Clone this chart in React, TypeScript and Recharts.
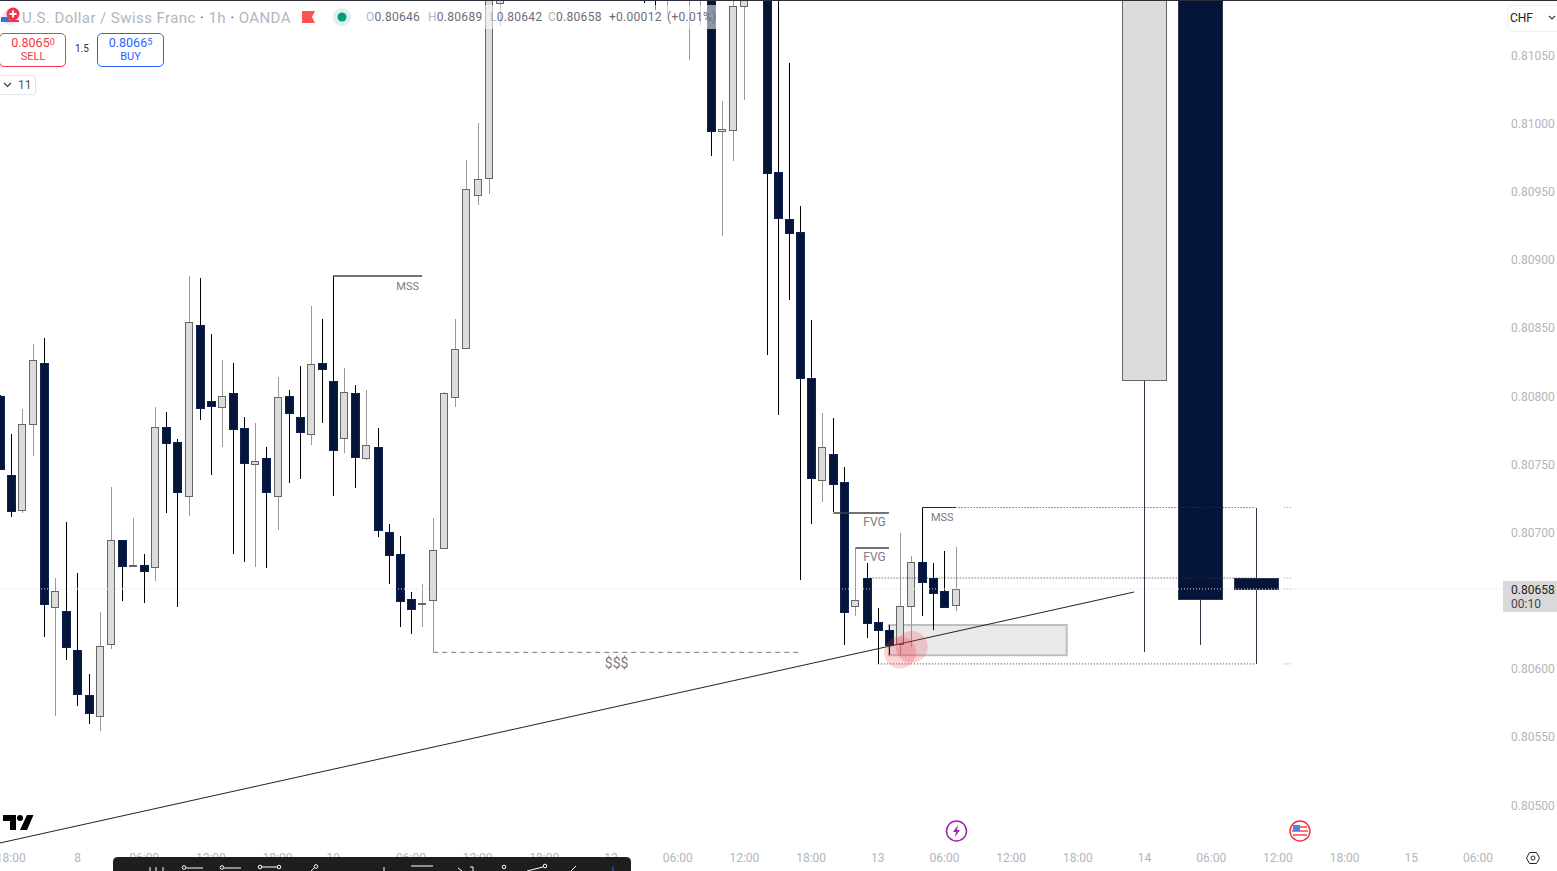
import React from "react";
import { ComposedChart, Bar, XAxis, YAxis, ReferenceLine, ReferenceArea, ReferenceDot } from "recharts";

const W = 1557, H = 871;
const FONT = "Roboto, 'Liberation Sans', sans-serif";
const GREY = "#b2b5be";

// hour index on the chart's time axis, open, high, low, close
const hourIndex = [-7,-6,-5,-4,-3,-2,-1,0,1,2,3,4,5,6,7,8,9,10,11,12,13,14,15,16,17,18,19,20,21,22,23,24,25,26,27,28,29,30,31,32,33,34,35,36,37,38,51,52,53,55,56,57,58,59,60,62,63,64,65,66,67,68,69,70,71,72,73,74,75,76,77,78,79];
const opens = [0.807995,0.807415,0.807156,0.807787,0.808237,0.806450,0.806418,0.806132,0.805802,0.805650,0.806174,0.806936,0.806748,0.806755,0.806738,0.807765,0.807655,0.807259,0.808513,0.807958,0.807912,0.808015,0.807758,0.807494,0.807538,0.807259,0.807995,0.807839,0.807714,0.808235,0.808103,0.807685,0.808015,0.807538,0.807621,0.806995,0.806834,0.806504,0.806473,0.806496,0.806878,0.807987,0.808347,0.809471,0.809591,0.810875,0.81135,0.8112,0.81095,0.8110,0.81095,0.81105,0.809936,0.809943,0.810853,0.8111,0.809637,0.809293,0.809197,0.808127,0.807377,0.807569,0.807362,0.806452,0.806658,0.806337,0.806276,0.806174,0.806452,0.806775,0.806658,0.806562,0.80646];
const highs = [0.8080,0.807716,0.807899,0.808376,0.808420,0.806660,0.807071,0.806697,0.805956,0.806411,0.807327,0.806939,0.8071,0.806836,0.807914,0.807877,0.807679,0.808875,0.80886,0.808449,0.808259,0.808237,0.807841,0.807797,0.807621,0.808134,0.808039,0.808215,0.808655,0.808559,0.808875,0.8082,0.808073,0.808039,0.80776,0.807056,0.806968,0.806557,0.806616,0.8071,0.808024,0.808559,0.809725,0.809997,0.81105,0.81125,0.8114,0.8113,0.81125,0.8113,0.8112,0.8111,0.810158,0.81095,0.81105,0.81115,0.81095,0.810437,0.809388,0.808552,0.80787,0.807833,0.807474,0.806882,0.806768,0.80644,0.806315,0.80699,0.806821,0.807177,0.806768,0.806858,0.80689];
const lows = [0.80745,0.80711,0.807139,0.807557,0.80623,0.805648,0.806059,0.805721,0.805589,0.80554,0.806142,0.806494,0.806743,0.806479,0.80664,0.807139,0.80645,0.807117,0.807819,0.807418,0.807623,0.806838,0.80678,0.806741,0.806733,0.807012,0.807359,0.807388,0.807635,0.807799,0.807264,0.807579,0.807322,0.807525,0.806963,0.806618,0.806303,0.806252,0.806303,0.806115,0.806873,0.807914,0.80834,0.809398,0.809478,0.81071,0.810877,0.810825,0.810789,0.810459,0.810715,0.809757,0.80917,0.80972,0.810168,0.808295,0.807855,0.808699,0.806645,0.807058,0.80722,0.807142,0.806171,0.806384,0.806222,0.806027,0.806093,0.806095,0.806154,0.806384,0.806279,0.806447,0.80642];
const closes = [0.807456,0.807154,0.807787,0.808257,0.806472,0.806562,0.806156,0.805812,0.805672,0.806159,0.806936,0.80675,0.806753,0.806714,0.807765,0.807652,0.807293,0.808535,0.807909,0.807921,0.807993,0.807755,0.807506,0.807516,0.807293,0.807985,0.807872,0.807733,0.808227,0.808195,0.807601,0.808022,0.80755,0.807633,0.807014,0.806831,0.806494,0.806435,0.806476,0.806863,0.808015,0.808339,0.80951,0.809584,0.81098,0.8111,0.81105,0.811,0.81115,0.8112,0.8111,0.80994,0.80995,0.810853,0.811,0.809632,0.809302,0.809192,0.808127,0.807396,0.807619,0.807352,0.806413,0.806496,0.806332,0.806281,0.806171,0.806452,0.806775,0.806633,0.806552,0.80645,0.80658];

// the three large projected candles drawn to the right of the last bar
const projectedIndex = [96,101,106];
const projectedOpen = [0.808112,0.8112,0.80666];
const projectedHigh = [0.8114,0.8112,0.807177];
const projectedLow = [0.806117,0.806169,0.806029];
const projectedClose = [0.8114,0.806506,0.806579];

const priceTicks = [0.805,0.8055,0.806,0.807,0.8075,0.808,0.8085,0.809,0.8095,0.81,0.8105];
const timeTickIndex = [-6,0,6,12,18,23,30,36,42,48,54,60,66,72,78,84,90,96,102,108,114,120,126];
const timeTickLabels = ["18:00","8","06:00","12:00","18:00","10","06:00","12:00","18:00","12","06:00","12:00","18:00","13","06:00","12:00","18:00","14","06:00","12:00","18:00","15","06:00"];

const lastPrice = 0.80658;

const solidSegments = [
  { x1: 23, x2: 31, y: 0.808875 },
  { x1: 68, x2: 73, y: 0.807137 },
  { x1: 70, x2: 73, y: 0.80688 },
];
const thinSegments = [{ x1: 76, x2: 79, y: 0.807177 }];
const dottedSegments = [
  { x1: 79, x2: 106, y: 0.807177 },
  { x1: 71, x2: 106, y: 0.80666 },
  { x1: 72, x2: 106, y: 0.80603 },
];
const dashedSegments = [{ x1: 32, x2: 65, y: 0.806115 }];
const endMarks = [0.807177, 0.80666, 0.80658, 0.80603];
const trendLine = { x1: -6.973, y1: 0.804717, x2: 95.05, y2: 0.806557 };
const zone = { x1: 73, x2: 89, y1: 0.806093, y2: 0.806315 };
const circles = [{ x: 74, y: 0.806114 }, { x: 75.05, y: 0.806154 }];
const notes = [
  { x: 29.7, y: 0.808801, text: "MSS", size: 11 },
  { x: 71.7, y: 0.807071, text: "FVG", size: 12 },
  { x: 71.7, y: 0.806814, text: "FVG", size: 12 },
  { x: 77.8, y: 0.807107, text: "MSS", size: 11 },
  { x: 48.5, y: 0.806037, text: "$$$", size: 14 },
];

const rows = [
  ...hourIndex.map((t, i) => ({ t, o: opens[i], h: highs[i], l: lows[i], c: closes[i], projected: false, range: [lows[i], highs[i]] })),
  ...projectedIndex.map((t, i) => ({ t, o: projectedOpen[i], h: projectedHigh[i], l: projectedLow[i], c: projectedClose[i], projected: true, range: [projectedLow[i], projectedHigh[i]] })),
];

function Candle(props: any) {
  const { x, y, width, height, payload } = props;
  if (!payload || payload.h == null) return null;
  const { o, h, l, c, projected } = payload;
  const top = Math.min(y, y + height);
  const k = Math.abs(height) / (h - l);
  const cx = Math.round(x + width / 2);
  const yHigh = top;
  const yLow = top + Math.abs(height);
  const yBodyTop = Math.round(top + (h - Math.max(o, c)) * k);
  const yBodyBot = Math.max(Math.round(top + (h - Math.min(o, c)) * k), yBodyTop + 1);
  const up = c >= o;
  const half = projected ? 22 : up ? 3.5 : 4;
  const wick = projected ? "#2f3648" : up ? "#9a9a9a" : "#000";
  const fill = up ? "#dcdcdc" : "#05153a";
  const stroke = up ? "#666" : projected ? "#2f3648" : "#0f2154";
  return (
    <g shapeRendering="crispEdges">
      <line x1={cx + 0.5} x2={cx + 0.5} y1={yHigh} y2={yLow} stroke={wick} strokeWidth={1} />
      <rect x={cx - half + (up && !projected ? 0 : 0.5)} y={yBodyTop + 0.5} width={half * 2} height={yBodyBot - yBodyTop} fill={fill} stroke={stroke} strokeWidth={1} />
    </g>
  );
}

function Abs({ l, t, w, h, style, children }: any) {
  return <div style={{ position: "absolute", left: l, top: t, width: w, height: h, ...style }}>{children}</div>;
}

function Txt({ l, t, size = 12, color = GREY, children, style }: any) {
  return <div style={{ position: "absolute", left: l, top: t, fontSize: size, color, lineHeight: "14px", whiteSpace: "nowrap", fontFamily: FONT, ...style }}>{children}</div>;
}

const DIGIT = "#6a6d78";

function Header() {
  const spaced = { letterSpacing: 0.28 };
  return (
    <>
      <Abs l={0} t={0} w={W} h={1} style={{ background: "#2a2e39" }} />
      <Abs l={0} t={5} w={716} h={24} style={{ background: "rgba(255,255,255,0.55)" }} />
      <svg style={{ position: "absolute", left: 0, top: 6 }} width={22} height={20}>
        <circle cx={10} cy={11} r={8} fill="#e8eaf0" />
        <rect x={1} y={14} width={18} height={2} fill="#f23645" />
        <rect x={1} y={11} width={8} height={4} fill="#3a6fd8" />
        <circle cx={13} cy={8} r={6.5} fill="#f23645" />
        <rect x={9.5} y={7} width={7} height={2} fill="#fff" />
        <rect x={12} y={4.5} width={2} height={7} fill="#fff" />
      </svg>
      <Txt l={22} t={11} size={15} style={{ letterSpacing: 0.43 }}>U.S. Dollar / Swiss Franc <span style={{ color: "#444" }}>·</span> 1h <span style={{ color: "#444" }}>·</span> OANDA</Txt>
      <svg style={{ position: "absolute", left: 300, top: 9 }} width={18} height={16}>
        <polygon points="2,2 15,2 12,8 15,14 2,14" fill="#ff5252" />
      </svg>
      <svg style={{ position: "absolute", left: 332, top: 7 }} width={20} height={20}>
        <circle cx={10} cy={10} r={9} fill="#089981" opacity={0.14} />
        <circle cx={10} cy={10} r={4.5} fill="#089981" />
      </svg>
      <Txt l={366} t={10} style={spaced}>O<span style={{ color: DIGIT }}>0.80646</span></Txt>
      <Txt l={428} t={10} style={spaced}>H<span style={{ color: DIGIT }}>0.80689</span></Txt>
      <Txt l={490} t={10} style={spaced}>L<span style={{ color: DIGIT }}>0.80642</span></Txt>
      <Txt l={548} t={10} style={spaced}>C<span style={{ color: DIGIT }}>0.80658</span></Txt>
      <Txt l={609} t={10} color={DIGIT} style={spaced}>+0.00012</Txt>
      <Txt l={667} t={10} color={DIGIT} style={spaced}>(+0.01%)</Txt>
      <Abs l={-1} t={33} w={65} h={32} style={{ border: "1px solid #f23645", borderRadius: 5, background: "#fff" }} />
      <Txt l={0} t={36} size={12.5} color="#f23645" style={{ width: 66, textAlign: "center" }}>0.8065<span style={{ fontSize: 9, position: "relative", top: -2 }}>0</span></Txt>
      <Txt l={0} t={50} size={11} color="#f23645" style={{ width: 66, textAlign: "center" }}>SELL</Txt>
      <Txt l={75} t={42} size={10} color="#333">1.5</Txt>
      <Abs l={97} t={33} w={65} h={32} style={{ border: "1px solid #2962ff", borderRadius: 5, background: "#fff" }} />
      <Txt l={97} t={36} size={12.5} color="#2962ff" style={{ width: 67, textAlign: "center" }}>0.8066<span style={{ fontSize: 9, position: "relative", top: -2 }}>5</span></Txt>
      <Txt l={97} t={50} size={11} color="#2962ff" style={{ width: 67, textAlign: "center" }}>BUY</Txt>
      <Abs l={-1} t={75} w={35} h={18} style={{ border: "1px solid #e0e3eb", borderRadius: 3 }} />
      <svg style={{ position: "absolute", left: 3, top: 82 }} width={9} height={6}>
        <path d="M1 1 L4.5 4.5 L8 1" stroke="#333" fill="none" strokeWidth={1.1} />
      </svg>
      <Txt l={18} t={78} size={12} color="#555">11</Txt>
      <Abs l={1507} t={5} w={60} h={25} style={{ border: "1px solid #eeeff3", borderRadius: 5 }} />
      <Txt l={1510} t={11} size={12} color="#222">CHF</Txt>
      <svg style={{ position: "absolute", left: 1548, top: 15 }} width={9} height={6}>
        <path d="M1 1 L4 4 L7 1" stroke="#333" fill="none" strokeWidth={1.1} />
      </svg>
      <Abs l={1503} t={581} w={54} h={31} style={{ background: "#d9d9d9" }} />
      <Txt l={1511} t={583} size={12} color="#222">0.80658</Txt>
      <Txt l={1511} t={597} size={12} color="#444">00:10</Txt>
    </>
  );
}

function Footer() {
  return (
    <>
      <svg style={{ position: "absolute", left: 0, top: 812 }} width={36} height={20}>
        <path d="M3 3 H16 V18 H10 V9 H3 Z" fill="#000" />
        <circle cx={20} cy={6} r={3} fill="#000" />
        <path d="M27 3 H33.5 L27 18 H20 Z" fill="#000" />
      </svg>
      <svg style={{ position: "absolute", left: 945, top: 820 }} width={23} height={23}>
        <circle cx={11.5} cy={11} r={10} fill="#fff" stroke="#9c27b0" strokeWidth={1.5} />
        <path d="M13 5 L8 12 H11 L10 17 L15 10 H12 Z" fill="#9c27b0" />
      </svg>
      <svg style={{ position: "absolute", left: 1288, top: 819 }} width={24} height={24}>
        <circle cx={12} cy={12} r={10} fill="#fff" stroke="#f23645" strokeWidth={1.5} />
        <rect x={5} y={7} width={14} height={2} fill="#f23645" opacity={0.7} />
        <rect x={4} y={11} width={16} height={2} fill="#f23645" opacity={0.7} />
        <rect x={5} y={15} width={14} height={2} fill="#f23645" opacity={0.7} />
        <rect x={5} y={6} width={7} height={6} fill="#4a86e8" />
      </svg>
      <svg style={{ position: "absolute", left: 1525, top: 850 }} width={16} height={16}>
        <path d="M1.5 8 L4.5 2.5 H11.5 L14.5 8 L11.5 13.5 H4.5 Z" fill="#fff" stroke="#222" strokeWidth={1} />
        <circle cx={8} cy={8} r={2} fill="none" stroke="#222" strokeWidth={1} />
      </svg>
      <svg style={{ position: "absolute", left: 113, top: 857 }} width={518} height={14}>
        <path d="M0 14 V5 Q0 0 5 0 H513 Q518 0 518 5 V14 Z" fill="#1e1e1e" />
        <g stroke="#fff" strokeWidth={1} fill="none">
          <path d="M37 14 V10 M43 14 V10 M50 14 V10" />
          <circle cx={71} cy={10.5} r={1.8} />
          <path d="M73 11 H90" />
          <circle cx={109} cy={10.5} r={1.8} />
          <path d="M111 11 H128" />
          <circle cx={147} cy={10} r={1.8} />
          <circle cx={166} cy={10} r={1.8} />
          <path d="M149 10 H164" />
          <circle cx={203} cy={9.5} r={1.8} />
          <path d="M201 11 L198 14" />
          <path d="M271 14 V10" />
          <path d="M298 9 H320" />
          <path d="M345 11 L349 14 M357 10 H360 V14" />
          <circle cx={391} cy={10} r={1.8} />
          <circle cx={432} cy={9} r={1.8} />
          <path d="M414 14 L430 10" />
          <path d="M458 14 L463 9" />
          <path d="M500 10 V14" stroke="#2962ff" />
        </g>
      </svg>
    </>
  );
}

export default function App() {
  return (
    <div style={{ position: "absolute", left: 0, top: 0, width: W, height: H, overflow: "hidden", background: "#fff", fontFamily: FONT }}>
      <ComposedChart width={W} height={H} data={rows} margin={{ top: 0, right: 0, left: 0, bottom: 0 }} barSize={9}>
        <XAxis
          dataKey="t"
          type="number"
          domain={[-6.973, 128.25]}
          allowDataOverflow
          ticks={timeTickIndex}
          interval={0}
          height={26}
          axisLine={false}
          tickLine={false}
          tickMargin={2}
          tick={{ fill: GREY, fontSize: 12, fontFamily: FONT }}
          tickFormatter={(v: number) => timeTickLabels[timeTickIndex.indexOf(v)] ?? ""}
        />
        <YAxis
          orientation="right"
          type="number"
          domain={[0.804702, 0.810899]}
          allowDataOverflow
          ticks={priceTicks}
          interval={0}
          width={54}
          axisLine={false}
          tickLine={false}
          tickMargin={2}
          tick={{ fill: GREY, fontSize: 12, fontFamily: FONT, dy: 1 }}
          tickFormatter={(v: number) => v.toFixed(5)}
        />
        <ReferenceArea x1={zone.x1} x2={zone.x2} y1={zone.y1} y2={zone.y2} fill="#e9e9e9" stroke="#bfbfbf" strokeWidth={2} fillOpacity={1} />
        {dottedSegments.map((s, i) => (
          <ReferenceLine key={"dot" + i} segment={[{ x: s.x1, y: s.y }, { x: s.x2, y: s.y }]} stroke="#333" strokeDasharray="1 2" strokeWidth={1} />
        ))}
        <Bar dataKey="range" isAnimationActive={false} shape={<Candle />} />
        {dashedSegments.map((s, i) => (
          <ReferenceLine key={"dash" + i} segment={[{ x: s.x1, y: s.y }, { x: s.x2, y: s.y }]} stroke="#777" strokeDasharray="5 4" strokeWidth={1} />
        ))}
        {solidSegments.map((s, i) => (
          <ReferenceLine key={"solid" + i} segment={[{ x: s.x1, y: s.y }, { x: s.x2, y: s.y }]} stroke="#444" strokeWidth={1.5} />
        ))}
        {thinSegments.map((s, i) => (
          <ReferenceLine key={"thin" + i} segment={[{ x: s.x1, y: s.y }, { x: s.x2, y: s.y }]} stroke="#222" strokeWidth={1} />
        ))}
        {endMarks.map((y, i) => (
          <ReferenceLine key={"end" + i} segment={[{ x: 108.46, y }, { x: 109.27, y }]} stroke="#c8c8c8" strokeWidth={1} strokeDasharray="2 1" />
        ))}
        <ReferenceLine y={lastPrice} stroke="#dcdcdc" strokeDasharray="1 2" strokeWidth={1} />
        <ReferenceLine segment={[{ x: trendLine.x1, y: trendLine.y1 }, { x: trendLine.x2, y: trendLine.y2 }]} stroke="#222" strokeWidth={1} />
        {circles.map((c, i) => (
          <ReferenceDot key={"c" + i} x={c.x} y={c.y} r={16} fill="#f23645" fillOpacity={0.22} stroke="none" />
        ))}
        {notes.map((n, i) => (
          <ReferenceDot key={"n" + i} x={n.x} y={n.y} r={0} fill="none" stroke="none"
            label={{ value: n.text, position: "center", fill: "#787b86", fontSize: n.size, fontFamily: FONT }} />
        ))}
      </ComposedChart>
      <Header />
      <Footer />
    </div>
  );
}
